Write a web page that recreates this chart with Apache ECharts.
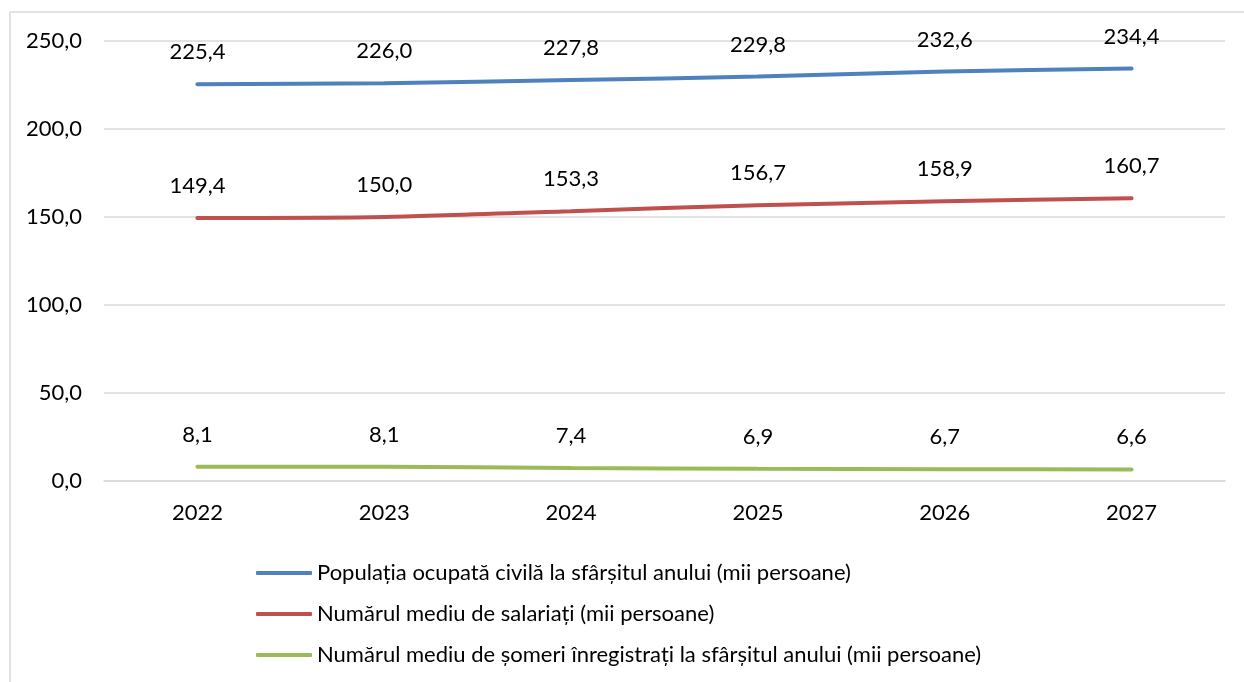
<!DOCTYPE html>
<html>
<head>
<meta charset="utf-8">
<script src="https://cdn.jsdelivr.net/npm/echarts@6/dist/echarts.min.js"></script>
<style>html,body{margin:0;padding:0;background:#fff;}#chart{width:1244px;height:682px;}</style>
</head>
<body>
<div id="chart"></div>
<script>
const categories = ['2022', '2023', '2024', '2025', '2026', '2027'];
const populatiaOcupata = [225.4, 226.0, 227.8, 229.8, 232.6, 234.4];
const numarSalariati = [149.4, 150.0, 153.3, 156.7, 158.9, 160.7];
const numarSomeri = [8.1, 8.1, 7.4, 6.9, 6.7, 6.6];
const seriesNames = [
  'Populația ocupată civilă la sfârșitul anului (mii persoane)',
  'Numărul mediu de salariați (mii persoane)',
  'Numărul mediu de șomeri înregistrați la sfârșitul anului (mii persoane)'
];
const colors = ['#4F81BD', '#C0504D', '#9BBB59'];
const FONT = 'Lato';
const FS = 22;
const fmt = v => Number(v).toFixed(1).replace('.', ',');

const chart = echarts.init(document.getElementById('chart'));
function mk(name, data, color) {
  return {
    name, type: 'line', data, smooth: 0.25,
    symbol: 'circle', symbolSize: 2, showSymbol: true,
    lineStyle: { color, width: 4, cap: 'round' },
    itemStyle: { color },
    label: {
      show: true, position: 'top', distance: 20,
      fontFamily: FONT, fontSize: FS, color: '#000',
      formatter: p => fmt(p.value)
    }
  };
}
chart.setOption({
  animation: false,
  graphic: [{
    type: 'rect', shape: { x: 10, y: 12, width: 1260, height: 700 },
    style: { fill: 'none', stroke: '#d9d9d9', lineWidth: 1.5 }, silent: true
  }],
  grid: { left: 104, right: 19, top: 41, bottom: 201, containLabel: false },
  xAxis: {
    type: 'category', data: categories, boundaryGap: true,
    axisLine: { show: true, lineStyle: { color: '#d9d9d9', width: 1.5 } },
    axisTick: { show: false },
    axisLabel: { fontFamily: FONT, fontSize: FS, color: '#000', margin: 21 }
  },
  yAxis: {
    type: 'value', min: 0, max: 250, interval: 50,
    axisLine: { show: false }, axisTick: { show: false },
    splitLine: { lineStyle: { color: '#d9d9d9', width: 1.5 } },
    axisLabel: { fontFamily: FONT, fontSize: FS, color: '#000', margin: 22, formatter: v => fmt(v) }
  },
  legend: {
    orient: 'vertical', left: 256, top: 562, itemGap: 19, padding: 0,
    itemWidth: 56, itemHeight: 4, icon: 'roundRect',
    textStyle: { fontFamily: FONT, fontSize: FS, color: '#000' },
    data: seriesNames.map((n, i) => ({ name: n, itemStyle: { color: colors[i] } }))
  },
  series: [
    mk(seriesNames[0], populatiaOcupata, colors[0]),
    mk(seriesNames[1], numarSalariati, colors[1]),
    mk(seriesNames[2], numarSomeri, colors[2])
  ]
});
</script>
</body>
</html>
